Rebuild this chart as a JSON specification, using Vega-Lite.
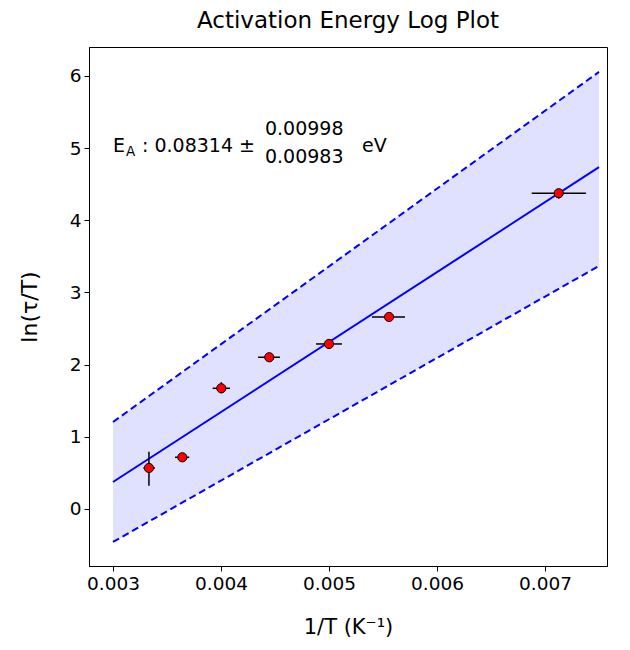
{
  "$schema": "https://vega.github.io/schema/vega-lite/v6.json",
  "width": 518,
  "height": 519,
  "autosize": {"type": "none"},
  "padding": {"left": 89, "top": 47, "right": 23, "bottom": 84},
  "background": "white",
  "title": {"text": "Activation Energy Log Plot", "font": "DejaVu Sans", "fontSize": 23, "fontWeight": "normal", "color": "black", "anchor": "middle", "offset": 14},
  "config": {
    "view": {"stroke": "black", "strokeWidth": 1},
    "axis": {"grid": false, "domainColor": "black", "tickColor": "black", "labelFont": "DejaVu Sans", "labelFontSize": 18.5, "labelColor": "black", "titleFont": "DejaVu Sans", "titleFontSize": 21, "titleFontWeight": "normal", "titleColor": "black", "tickSize": 5, "labelPadding": 3}
  },
  "datasets": {
    "pts": [
      {"x": 0.003333, "y": 0.568, "xlo": 0.003281, "xhi": 0.003389, "ylo": 0.323, "yhi": 0.794},
      {"x": 0.003642, "y": 0.716, "xlo": 0.003574, "xhi": 0.003706, "ylo": 0.69, "yhi": 0.745},
      {"x": 0.004003, "y": 1.672, "xlo": 0.003923, "xhi": 0.004083, "ylo": 1.603, "yhi": 1.756},
      {"x": 0.004447, "y": 2.102, "xlo": 0.004343, "xhi": 0.004546, "ylo": 2.08, "yhi": 2.125},
      {"x": 0.005, "y": 2.286, "xlo": 0.00488, "xhi": 0.00512, "ylo": 2.265, "yhi": 2.31},
      {"x": 0.005556, "y": 2.66, "xlo": 0.005398, "xhi": 0.005704, "ylo": 2.64, "yhi": 2.68},
      {"x": 0.007127, "y": 4.374, "xlo": 0.006877, "xhi": 0.00738, "ylo": 4.30, "yhi": 4.43}
    ],
    "fit": [
      {"x": 0.003, "y": 0.374, "lo": -0.457, "hi": 1.205},
      {"x": 0.0075, "y": 4.735, "lo": 3.367, "hi": 6.055}
    ]
  },
  "layer": [
    {
      "data": {"name": "fit"},
      "mark": {"type": "area", "color": "#e0e0ff", "opacity": 1},
      "encoding": {
        "x": {"field": "x", "type": "quantitative", "scale": {"domain": [0.002778, 0.007574], "nice": false, "zero": false}, "axis": {"values": [0.003, 0.004, 0.005, 0.006, 0.007], "format": ".3f", "title": "1/T (K⁻¹)", "titlePadding": 24}},
        "y": {"field": "lo", "type": "quantitative", "scale": {"domain": [-0.79, 6.4], "nice": false, "zero": false}, "axis": {"values": [0, 1, 2, 3, 4, 5, 6], "format": "d", "title": "ln(τ/T)", "titlePadding": 28, "titleFontSize": 22}},
        "y2": {"field": "hi"}
      }
    },
    {
      "data": {"name": "fit"},
      "mark": {"type": "line", "color": "#0000ff", "strokeWidth": 2, "strokeDash": [7, 4]},
      "encoding": {"x": {"field": "x", "type": "quantitative"}, "y": {"field": "hi", "type": "quantitative"}}
    },
    {
      "data": {"name": "fit"},
      "mark": {"type": "line", "color": "#0000ff", "strokeWidth": 2, "strokeDash": [7, 4]},
      "encoding": {"x": {"field": "x", "type": "quantitative"}, "y": {"field": "lo", "type": "quantitative"}}
    },
    {
      "data": {"name": "fit"},
      "mark": {"type": "line", "color": "#0000ff", "strokeWidth": 2},
      "encoding": {"x": {"field": "x", "type": "quantitative"}, "y": {"field": "y", "type": "quantitative"}}
    },
    {
      "data": {"name": "pts"},
      "mark": {"type": "rule", "color": "black", "strokeWidth": 1.5},
      "encoding": {"x": {"field": "xlo", "type": "quantitative"}, "x2": {"field": "xhi"}, "y": {"field": "y", "type": "quantitative"}}
    },
    {
      "data": {"name": "pts"},
      "mark": {"type": "rule", "color": "black", "strokeWidth": 1.5},
      "encoding": {"x": {"field": "x", "type": "quantitative"}, "y": {"field": "ylo", "type": "quantitative"}, "y2": {"field": "yhi"}}
    },
    {
      "data": {"name": "pts"},
      "mark": {"type": "point", "shape": "circle", "filled": true, "fill": "#ff0000", "stroke": "black", "strokeWidth": 1, "size": 85, "opacity": 1},
      "encoding": {"x": {"field": "x", "type": "quantitative"}, "y": {"field": "y", "type": "quantitative"}}
    },
    {
      "data": {"values": [
        {"x": 0.003, "y": 5.03, "t": "E", "s": "italic", "fs": 19},
        {"x": 0.003120, "y": 4.94, "t": "A", "s": "italic", "fs": 13.5},
        {"x": 0.003269, "y": 5.03, "t": ": 0.08314 ±", "s": "normal", "fs": 19},
        {"x": 0.004407, "y": 5.26, "t": "0.00998", "s": "normal", "fs": 19},
        {"x": 0.004407, "y": 4.87, "t": "0.00983", "s": "normal", "fs": 19},
        {"x": 0.005306, "y": 5.03, "t": "eV", "s": "normal", "fs": 19}
      ]},
      "mark": {"type": "text", "align": "left", "baseline": "middle", "font": "DejaVu Sans", "color": "black"},
      "encoding": {
        "x": {"field": "x", "type": "quantitative"},
        "y": {"field": "y", "type": "quantitative"},
        "text": {"field": "t"},
        "fontStyle": {"field": "s", "type": "nominal", "scale": null},
        "size": {"field": "fs", "type": "quantitative", "scale": null}
      }
    }
  ]
}
